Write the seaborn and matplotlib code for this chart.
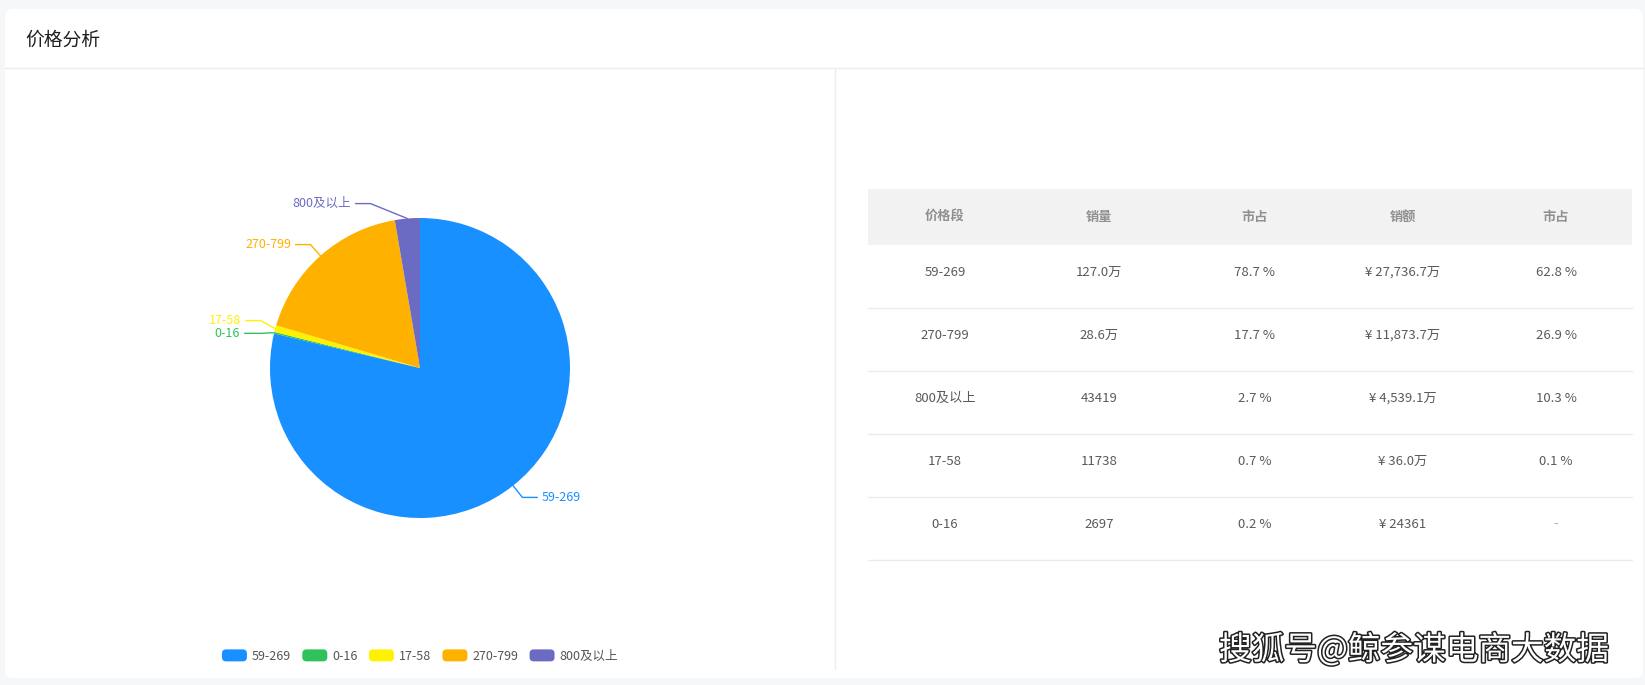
import numpy as np
import matplotlib
matplotlib.use("Agg")
import matplotlib.pyplot as plt
import seaborn as sns
from matplotlib.patches import FancyBboxPatch, Rectangle
from matplotlib.legend_handler import HandlerPatch
import matplotlib.patheffects as pe

# ---------------- data ----------------
title = "价格分析"
pie_labels = ["59-269", "0-16", "17-58", "270-799", "800及以上"]
pie_values = [1270000, 2697, 11738, 286000, 43419]
pie_colors = ["#1890ff", "#2fc25b", "#fff200", "#ffb100", "#6b6bc3"]

table_header = ["价格段", "销量", "市占", "销额", "市占"]
seg_col = ["59-269", "270-799", "800及以上", "17-58", "0-16"]
qty_col = ["127.0万", "28.6万", "43419", "11738", "2697"]
qty_share_col = ["78.7 %", "17.7 %", "2.7 %", "0.7 %", "0.2 %"]
rev_col = ["¥ 27,736.7万", "¥ 11,873.7万", "¥ 4,539.1万", "¥ 36.0万", "¥ 24361"]
rev_share_col = ["62.8 %", "26.9 %", "10.3 %", "0.1 %", "-"]
watermark = "搜狐号@鲸参谋电商大数据"

# ---------------- style ----------------
sns.set_theme(style="white")
palette = sns.color_palette(pie_colors)
plt.rcParams["font.family"] = ["Noto Sans CJK SC", "DejaVu Sans"]

W, H = 1645, 685
fig = plt.figure(figsize=(W / 100, H / 100), dpi=100)
fig.patch.set_facecolor("#f6f7f9")

bg = fig.add_axes([0, 0, 1, 1])
bg.set_xlim(0, W)
bg.set_ylim(H, 0)
bg.axis("off")

card = FancyBboxPatch((5, 9), 1638, 669, boxstyle="round,pad=0,rounding_size=8",
                      fc="white", ec="none")
bg.add_patch(card)
bg.plot([5, 1643], [68, 68], color="#ececec", lw=1)
bg.plot([835, 835], [68, 669], color="#ececec", lw=1)
bg.text(25, 40, title, fontsize=13.5, color="#1f1f1f", ha="left", va="center")

# ---------------- table ----------------
col_x = [945, 1099, 1255, 1403, 1556]
tx0, tx1 = 868, 1632
head_top, head_bot = 189, 245
row_h = 63
bg.add_patch(Rectangle((tx0, head_top), tx1 - tx0, head_bot - head_top,
                       fc="#f2f2f2", ec="none"))
for x, h in zip(col_x, table_header):
    bg.text(x, (head_top + head_bot) / 2, h, fontsize=9.5, color="#909090",
            fontweight="bold", ha="center", va="center")
columns = [seg_col, qty_col, qty_share_col, rev_col, rev_share_col]
for i in range(len(seg_col)):
    top = head_bot + i * row_h
    for j, (x, col) in enumerate(zip(col_x, columns)):
        c = "#aaaaaa" if col[i] == "-" else "#5a5a5a"
        bg.text(x, top + 27, col[i], fontsize=9.5, color=c, ha="center", va="center")
    bg.plot([tx0, tx1], [top + row_h, top + row_h], color="#ebebeb", lw=1)

# watermark
bg.text(1414, 650, watermark, fontsize=23.5, color="white", ha="center", va="center",
        path_effects=[pe.withStroke(linewidth=2.2, foreground="#222222")])

# ---------------- pie ----------------
cx, cy, R = 420, 368, 150
size = 4 * R
ax = fig.add_axes([(cx - size / 2) / W, (H - cy - size / 2) / H, size / W, size / H])
wedges, _ = ax.pie(pie_values, colors=palette, startangle=90, counterclock=False,
                   radius=1, wedgeprops=dict(linewidth=0))
ax.set_xlim(-2, 2)
ax.set_ylim(-2, 2)
ax.axis("off")

# label layout (outer labels with elbow lines)
r_elb, seg_len, gap, min_dy, min_dx = 1.1, 0.1, 0.03, 0.085, 0.33
items = []
for w, lab, col in zip(wedges, pie_labels, pie_colors):
    t = np.deg2rad((w.theta1 + w.theta2) / 2)
    ex, ey = np.cos(t), np.sin(t)
    s = 1 if ex >= 0 else -1
    bx = r_elb * ex
    if abs(bx) < min_dx:
        bx = s * min_dx
    items.append(dict(lab=lab, col=col, ex=ex, ey=ey,
                      bx=bx, by=r_elb * ey, side=s))
for side in (-1, 1):
    grp = sorted([it for it in items if it["side"] == side], key=lambda d: -d["by"])
    for _ in range(20):
        for a, b in zip(grp[:-1], grp[1:]):
            d = a["by"] - b["by"]
            if d < min_dy:
                s = (min_dy - d) / 2
                a["by"] += s
                b["by"] -= s
for it in items:
    s = it["side"]
    hx = it["bx"] + s * seg_len
    ax.plot([it["ex"], it["bx"], hx], [it["ey"], it["by"], it["by"]],
            color=it["col"], lw=1)
    ax.text(hx + s * gap, it["by"], it["lab"], color=it["col"], fontsize=9,
            ha="left" if s > 0 else "right", va="center")


# legend with rounded markers
class RoundHandler(HandlerPatch):
    def create_artists(self, legend, orig_handle, xdescent, ydescent, width, height,
                       fontsize, trans):
        p = FancyBboxPatch((-xdescent, -ydescent), width, height,
                           boxstyle="round,pad=0,rounding_size=3",
                           fc=orig_handle.get_facecolor(), ec="none", transform=trans)
        return [p]


handles = [Rectangle((0, 0), 1, 1, fc=c, ec="none") for c in palette]
fig.legend(handles, pie_labels, loc="center", bbox_to_anchor=(cx / W, 1 - 656 / H),
           ncol=5, frameon=False, fontsize=9, handlelength=2.0, handleheight=1.1,
           handletextpad=0.4, columnspacing=0.9, labelcolor="#555555",
           handler_map={Rectangle: RoundHandler()})

fig.savefig("out.png", dpi=100, facecolor=fig.get_facecolor())
